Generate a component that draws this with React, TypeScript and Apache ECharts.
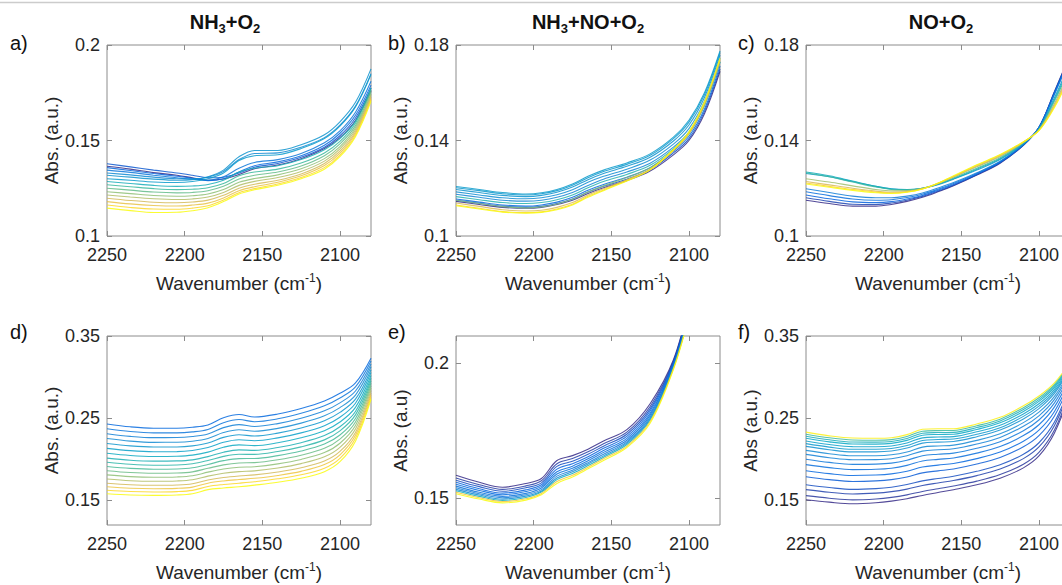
import React, { useEffect, useRef } from "react";
import * as echarts from "echarts";

// ---------------- DATA ----------------
const WN = [2250, 2235, 2220, 2205, 2195, 2185, 2175, 2165, 2155, 2140, 2125, 2110, 2100, 2090, 2080];
const WN_E = [2250, 2235, 2220, 2205, 2195, 2185, 2175, 2165, 2155, 2140, 2125, 2110, 2100];
const X_TICKS = [2250, 2200, 2150, 2100];

const A_YTICKS = [0.1, 0.15, 0.2];
const B_YTICKS = [0.1, 0.14, 0.18];
const C_YTICKS = [0.1, 0.14, 0.18];
const D_YTICKS = [0.15, 0.25, 0.35];
const E_YTICKS = [0.15, 0.2];
const F_YTICKS = [0.15, 0.25, 0.35];

const TITLES = ["NH{s|3}+O{s|2}", "NH{s|3}+NO+O{s|2}", "NO+O{s|2}"];
const PANEL_LABELS = ["a)", "b)", "c)", "d)", "e)", "f)"];
const Y_NAMES = ["Abs. (a.u.)", "Abs. (a.u.)", "Abs. (a.u.)", "Abs. (a.u.)", "Abs. (a.u)", "Abs (a.u.)"];
const X_NAME = "Wavenumber (cm{sup|-1})";

const A_LINES = [
  [0.1365, 0.1350, 0.1332, 0.1318, 0.1305, 0.1292, 0.1298, 0.1322, 0.1352, 0.1372, 0.1405, 0.1458, 0.1515, 0.1605, 0.1760],
  [0.1378, 0.1362, 0.1345, 0.1330, 0.1318, 0.1305, 0.1308, 0.1330, 0.1360, 0.1380, 0.1412, 0.1465, 0.1525, 0.1618, 0.1775],
  [0.1358, 0.1343, 0.1327, 0.1313, 0.1302, 0.1290, 0.1300, 0.1335, 0.1368, 0.1388, 0.1420, 0.1475, 0.1538, 0.1632, 0.1790],
  [0.1345, 0.1333, 0.1318, 0.1305, 0.1297, 0.1292, 0.1310, 0.1355, 0.1385, 0.1400, 0.1432, 0.1488, 0.1550, 0.1648, 0.1810],
  [0.1330, 0.1320, 0.1308, 0.1300, 0.1300, 0.1308, 0.1338, 0.1400, 0.1432, 0.1435, 0.1465, 0.1515, 0.1580, 0.1680, 0.1850],
  [0.1318, 0.1308, 0.1298, 0.1292, 0.1295, 0.1310, 0.1345, 0.1415, 0.1448, 0.1448, 0.1478, 0.1530, 0.1598, 0.1700, 0.1875],
  [0.1300, 0.1292, 0.1283, 0.1280, 0.1285, 0.1300, 0.1330, 0.1395, 0.1420, 0.1425, 0.1458, 0.1510, 0.1575, 0.1675, 0.1845],
  [0.1285, 0.1275, 0.1265, 0.1260, 0.1262, 0.1270, 0.1292, 0.1335, 0.1355, 0.1368, 0.1400, 0.1452, 0.1510, 0.1600, 0.1775],
  [0.1268, 0.1258, 0.1248, 0.1243, 0.1245, 0.1253, 0.1275, 0.1315, 0.1335, 0.1350, 0.1382, 0.1435, 0.1495, 0.1590, 0.1765],
  [0.1250, 0.1240, 0.1230, 0.1226, 0.1228, 0.1237, 0.1260, 0.1298, 0.1318, 0.1335, 0.1366, 0.1420, 0.1482, 0.1578, 0.1755],
  [0.1232, 0.1222, 0.1212, 0.1208, 0.1211, 0.1220, 0.1243, 0.1281, 0.1301, 0.1320, 0.1352, 0.1405, 0.1468, 0.1567, 0.1745],
  [0.1215, 0.1204, 0.1195, 0.1191, 0.1194, 0.1204, 0.1228, 0.1265, 0.1286, 0.1306, 0.1338, 0.1392, 0.1456, 0.1556, 0.1737],
  [0.1198, 0.1186, 0.1177, 0.1174, 0.1178, 0.1188, 0.1213, 0.1250, 0.1271, 0.1292, 0.1325, 0.1380, 0.1444, 0.1546, 0.1728],
  [0.1180, 0.1168, 0.1160, 0.1157, 0.1162, 0.1172, 0.1199, 0.1237, 0.1258, 0.1281, 0.1315, 0.1369, 0.1434, 0.1537, 0.1720],
  [0.1162, 0.1149, 0.1141, 0.1140, 0.1146, 0.1158, 0.1188, 0.1227, 0.1248, 0.1272, 0.1306, 0.1358, 0.1424, 0.1528, 0.1713],
  [0.1146, 0.1133, 0.1123, 0.1124, 0.1132, 0.1148, 0.1180, 0.1220, 0.1242, 0.1266, 0.1300, 0.1350, 0.1415, 0.1520, 0.1705],
];
const A_TONES = [0.0, 0.1, 0.15, 0.2, 0.27, 0.3, 0.33, 0.42, 0.5, 0.56, 0.62, 0.68, 0.74, 0.8, 0.9, 1.0];

const B_LINES = [
  [0.1145, 0.1132, 0.1120, 0.1116, 0.1120, 0.1132, 0.1150, 0.1178, 0.1202, 0.1232, 0.1272, 0.1340, 0.1400, 0.1512, 0.1690],
  [0.1150, 0.1137, 0.1125, 0.1120, 0.1124, 0.1136, 0.1155, 0.1184, 0.1208, 0.1238, 0.1278, 0.1348, 0.1408, 0.1522, 0.1700],
  [0.1155, 0.1142, 0.1130, 0.1125, 0.1130, 0.1142, 0.1162, 0.1192, 0.1216, 0.1246, 0.1286, 0.1356, 0.1418, 0.1532, 0.1712],
  [0.1175, 0.1162, 0.1150, 0.1146, 0.1150, 0.1162, 0.1182, 0.1212, 0.1238, 0.1268, 0.1305, 0.1372, 0.1435, 0.1550, 0.1730],
  [0.1185, 0.1172, 0.1160, 0.1156, 0.1160, 0.1173, 0.1194, 0.1225, 0.1250, 0.1280, 0.1318, 0.1385, 0.1450, 0.1565, 0.1745],
  [0.1195, 0.1182, 0.1170, 0.1165, 0.1170, 0.1183, 0.1205, 0.1236, 0.1262, 0.1292, 0.1330, 0.1398, 0.1465, 0.1580, 0.1758],
  [0.1202, 0.1190, 0.1177, 0.1172, 0.1177, 0.1190, 0.1213, 0.1244, 0.1270, 0.1300, 0.1338, 0.1408, 0.1477, 0.1592, 0.1768],
  [0.1207, 0.1195, 0.1182, 0.1176, 0.1181, 0.1195, 0.1218, 0.1250, 0.1276, 0.1306, 0.1344, 0.1414, 0.1485, 0.1600, 0.1775],
  [0.1165, 0.1152, 0.1140, 0.1136, 0.1140, 0.1152, 0.1172, 0.1202, 0.1228, 0.1258, 0.1296, 0.1365, 0.1430, 0.1548, 0.1728],
  [0.1150, 0.1136, 0.1123, 0.1118, 0.1122, 0.1134, 0.1154, 0.1184, 0.1210, 0.1245, 0.1286, 0.1360, 0.1428, 0.1548, 0.1730],
  [0.1138, 0.1124, 0.1110, 0.1105, 0.1108, 0.1120, 0.1140, 0.1172, 0.1198, 0.1236, 0.1280, 0.1358, 0.1428, 0.1552, 0.1735],
  [0.1130, 0.1116, 0.1102, 0.1098, 0.1101, 0.1113, 0.1133, 0.1166, 0.1193, 0.1232, 0.1278, 0.1360, 0.1432, 0.1558, 0.1740],
  [0.1127, 0.1113, 0.1100, 0.1096, 0.1099, 0.1110, 0.1130, 0.1162, 0.1190, 0.1230, 0.1277, 0.1362, 0.1436, 0.1562, 0.1745],
];
const B_TONES = [0.0, 0.08, 0.15, 0.25, 0.28, 0.3, 0.32, 0.33, 0.45, 0.6, 0.75, 0.9, 1.0];

const C_LINES = [
  [0.1150, 0.1136, 0.1125, 0.1125, 0.1132, 0.1145, 0.1162, 0.1185, 0.1210, 0.1255, 0.1305, 0.1380, 0.1455, 0.1605, 0.1760],
  [0.1160, 0.1145, 0.1133, 0.1132, 0.1138, 0.1150, 0.1166, 0.1188, 0.1213, 0.1257, 0.1307, 0.1381, 0.1455, 0.1603, 0.1757],
  [0.1172, 0.1156, 0.1143, 0.1140, 0.1144, 0.1155, 0.1170, 0.1192, 0.1216, 0.1259, 0.1309, 0.1382, 0.1455, 0.1600, 0.1753],
  [0.1185, 0.1169, 0.1155, 0.1150, 0.1152, 0.1161, 0.1175, 0.1196, 0.1220, 0.1262, 0.1311, 0.1383, 0.1454, 0.1597, 0.1748],
  [0.1198, 0.1182, 0.1167, 0.1160, 0.1160, 0.1167, 0.1180, 0.1201, 0.1224, 0.1265, 0.1313, 0.1384, 0.1453, 0.1593, 0.1742],
  [0.1262, 0.1248, 0.1228, 0.1208, 0.1198, 0.1195, 0.1200, 0.1215, 0.1238, 0.1276, 0.1320, 0.1386, 0.1450, 0.1580, 0.1725],
  [0.1268, 0.1252, 0.1230, 0.1208, 0.1197, 0.1194, 0.1200, 0.1217, 0.1240, 0.1280, 0.1324, 0.1388, 0.1448, 0.1572, 0.1715],
  [0.1265, 0.1248, 0.1226, 0.1205, 0.1195, 0.1193, 0.1200, 0.1218, 0.1243, 0.1284, 0.1328, 0.1390, 0.1447, 0.1565, 0.1705],
  [0.1240, 0.1226, 0.1210, 0.1195, 0.1189, 0.1190, 0.1200, 0.1220, 0.1247, 0.1290, 0.1333, 0.1392, 0.1445, 0.1555, 0.1695],
  [0.1228, 0.1214, 0.1200, 0.1188, 0.1183, 0.1186, 0.1198, 0.1220, 0.1248, 0.1293, 0.1336, 0.1393, 0.1443, 0.1548, 0.1685],
  [0.1222, 0.1208, 0.1195, 0.1184, 0.1180, 0.1184, 0.1197, 0.1221, 0.1250, 0.1296, 0.1339, 0.1394, 0.1442, 0.1542, 0.1678],
  [0.1218, 0.1204, 0.1191, 0.1181, 0.1178, 0.1183, 0.1197, 0.1222, 0.1252, 0.1298, 0.1341, 0.1395, 0.1441, 0.1538, 0.1672],
];
const C_TONES = [0.0, 0.06, 0.12, 0.17, 0.22, 0.32, 0.4, 0.5, 0.65, 0.75, 0.88, 1.0];

const D_LINES = [
  [0.2430, 0.2395, 0.2378, 0.2378, 0.2390, 0.2418, 0.2505, 0.2545, 0.2515, 0.2550, 0.2618, 0.2710, 0.2803, 0.2930, 0.3230],
  [0.2371, 0.2337, 0.2321, 0.2321, 0.2333, 0.2363, 0.2445, 0.2483, 0.2457, 0.2492, 0.2559, 0.2650, 0.2745, 0.2880, 0.3195],
  [0.2311, 0.2279, 0.2263, 0.2264, 0.2277, 0.2308, 0.2385, 0.2422, 0.2399, 0.2434, 0.2499, 0.2589, 0.2686, 0.2831, 0.3160],
  [0.2252, 0.2221, 0.2206, 0.2207, 0.2220, 0.2253, 0.2325, 0.2360, 0.2341, 0.2376, 0.2440, 0.2529, 0.2628, 0.2781, 0.3125],
  [0.2192, 0.2163, 0.2149, 0.2150, 0.2163, 0.2197, 0.2266, 0.2299, 0.2283, 0.2318, 0.2380, 0.2469, 0.2570, 0.2731, 0.3090],
  [0.2133, 0.2105, 0.2092, 0.2093, 0.2107, 0.2142, 0.2206, 0.2237, 0.2225, 0.2260, 0.2321, 0.2409, 0.2511, 0.2682, 0.3055],
  [0.2073, 0.2046, 0.2034, 0.2037, 0.2050, 0.2087, 0.2146, 0.2175, 0.2166, 0.2201, 0.2261, 0.2348, 0.2453, 0.2632, 0.3020],
  [0.2014, 0.1988, 0.1977, 0.1980, 0.1993, 0.2032, 0.2086, 0.2114, 0.2108, 0.2143, 0.2202, 0.2288, 0.2395, 0.2582, 0.2985],
  [0.1963, 0.1939, 0.1928, 0.1931, 0.1945, 0.1985, 0.2035, 0.2061, 0.2059, 0.2094, 0.2151, 0.2236, 0.2345, 0.2540, 0.2955],
  [0.1912, 0.1889, 0.1879, 0.1882, 0.1896, 0.1937, 0.1983, 0.2008, 0.2009, 0.2044, 0.2100, 0.2185, 0.2295, 0.2497, 0.2925],
  [0.1861, 0.1839, 0.1830, 0.1833, 0.1847, 0.1890, 0.1932, 0.1955, 0.1959, 0.1994, 0.2049, 0.2133, 0.2245, 0.2454, 0.2895],
  [0.1810, 0.1789, 0.1781, 0.1785, 0.1799, 0.1843, 0.1881, 0.1903, 0.1909, 0.1944, 0.1998, 0.2081, 0.2195, 0.2412, 0.2865],
  [0.1759, 0.1739, 0.1732, 0.1736, 0.1750, 0.1795, 0.1830, 0.1850, 0.1859, 0.1894, 0.1947, 0.2030, 0.2145, 0.2369, 0.2835],
  [0.1708, 0.1690, 0.1683, 0.1687, 0.1702, 0.1748, 0.1778, 0.1797, 0.1810, 0.1845, 0.1896, 0.1978, 0.2095, 0.2327, 0.2805],
  [0.1665, 0.1648, 0.1642, 0.1646, 0.1661, 0.1709, 0.1736, 0.1753, 0.1768, 0.1803, 0.1853, 0.1935, 0.2053, 0.2291, 0.2780],
  [0.1623, 0.1607, 0.1601, 0.1606, 0.1621, 0.1669, 0.1693, 0.1709, 0.1727, 0.1762, 0.1811, 0.1892, 0.2012, 0.2256, 0.2755],
  [0.1580, 0.1565, 0.1560, 0.1565, 0.1580, 0.1630, 0.1650, 0.1665, 0.1685, 0.1720, 0.1768, 0.1849, 0.1970, 0.2220, 0.2730],
];
const D_TONES = [0.15, 0.19, 0.23, 0.27, 0.31, 0.35, 0.39, 0.43, 0.47, 0.52, 0.57, 0.62, 0.68, 0.74, 0.82, 0.9, 1.0];

const E_LINES = [
  [0.1584, 0.1558, 0.1540, 0.1554, 0.1572, 0.1639, 0.1657, 0.1681, 0.1711, 0.1753, 0.1849, 0.2012, 0.2220],
  [0.1574, 0.1549, 0.1532, 0.1545, 0.1564, 0.1627, 0.1646, 0.1671, 0.1701, 0.1744, 0.1839, 0.2007, 0.2213],
  [0.1566, 0.1542, 0.1525, 0.1538, 0.1556, 0.1617, 0.1636, 0.1662, 0.1692, 0.1736, 0.1830, 0.2003, 0.2207],
  [0.1558, 0.1534, 0.1518, 0.1530, 0.1549, 0.1607, 0.1627, 0.1653, 0.1684, 0.1728, 0.1822, 0.1998, 0.2201],
  [0.1551, 0.1528, 0.1512, 0.1524, 0.1543, 0.1597, 0.1618, 0.1645, 0.1676, 0.1721, 0.1814, 0.1994, 0.2196],
  [0.1544, 0.1521, 0.1506, 0.1517, 0.1537, 0.1589, 0.1610, 0.1638, 0.1669, 0.1714, 0.1807, 0.1991, 0.2191],
  [0.1538, 0.1516, 0.1501, 0.1512, 0.1531, 0.1581, 0.1603, 0.1631, 0.1662, 0.1708, 0.1800, 0.1988, 0.2186],
  [0.1532, 0.1511, 0.1496, 0.1507, 0.1526, 0.1574, 0.1597, 0.1626, 0.1656, 0.1703, 0.1794, 0.1985, 0.2182],
  [0.1527, 0.1506, 0.1491, 0.1502, 0.1522, 0.1568, 0.1591, 0.1620, 0.1651, 0.1698, 0.1789, 0.1982, 0.2178],
  [0.1521, 0.1501, 0.1487, 0.1497, 0.1517, 0.1561, 0.1584, 0.1614, 0.1645, 0.1692, 0.1783, 0.1979, 0.2174],
  [0.1516, 0.1496, 0.1482, 0.1492, 0.1512, 0.1554, 0.1578, 0.1608, 0.1639, 0.1687, 0.1777, 0.1976, 0.2170],
];
const E_TONES = [0.0, 0.04, 0.08, 0.12, 0.15, 0.18, 0.22, 0.27, 0.4, 0.85, 1.0];

const F_LINES = [
  [0.2330, 0.2285, 0.2258, 0.2255, 0.2262, 0.2300, 0.2365, 0.2372, 0.2372, 0.2430, 0.2510, 0.2650, 0.2770, 0.2930, 0.3180],
  [0.2305, 0.2261, 0.2234, 0.2231, 0.2239, 0.2277, 0.2341, 0.2349, 0.2350, 0.2408, 0.2488, 0.2627, 0.2748, 0.2912, 0.3169],
  [0.2281, 0.2237, 0.2210, 0.2208, 0.2216, 0.2253, 0.2317, 0.2325, 0.2327, 0.2386, 0.2466, 0.2605, 0.2726, 0.2893, 0.3157],
  [0.2256, 0.2212, 0.2186, 0.2184, 0.2193, 0.2230, 0.2293, 0.2302, 0.2305, 0.2363, 0.2443, 0.2582, 0.2704, 0.2875, 0.3146],
  [0.2223, 0.2180, 0.2154, 0.2153, 0.2162, 0.2199, 0.2260, 0.2271, 0.2276, 0.2334, 0.2414, 0.2552, 0.2675, 0.2851, 0.3131],
  [0.2190, 0.2148, 0.2122, 0.2122, 0.2131, 0.2167, 0.2228, 0.2240, 0.2246, 0.2304, 0.2384, 0.2522, 0.2646, 0.2826, 0.3115],
  [0.2157, 0.2116, 0.2090, 0.2090, 0.2100, 0.2136, 0.2196, 0.2209, 0.2216, 0.2275, 0.2355, 0.2491, 0.2617, 0.2802, 0.3100],
  [0.2108, 0.2067, 0.2042, 0.2043, 0.2054, 0.2089, 0.2148, 0.2162, 0.2172, 0.2230, 0.2310, 0.2446, 0.2573, 0.2765, 0.3077],
  [0.2059, 0.2019, 0.1994, 0.1996, 0.2007, 0.2043, 0.2099, 0.2116, 0.2127, 0.2186, 0.2266, 0.2401, 0.2529, 0.2729, 0.3055],
  [0.2001, 0.1962, 0.1938, 0.1941, 0.1953, 0.1988, 0.2043, 0.2061, 0.2075, 0.2134, 0.2214, 0.2348, 0.2478, 0.2686, 0.3028],
  [0.1935, 0.1898, 0.1874, 0.1878, 0.1891, 0.1926, 0.1979, 0.1999, 0.2016, 0.2075, 0.2155, 0.2288, 0.2420, 0.2637, 0.2998],
  [0.1861, 0.1825, 0.1802, 0.1808, 0.1822, 0.1855, 0.1906, 0.1929, 0.1949, 0.2008, 0.2088, 0.2220, 0.2354, 0.2582, 0.2963],
  [0.1787, 0.1752, 0.1730, 0.1737, 0.1752, 0.1785, 0.1834, 0.1859, 0.1882, 0.1942, 0.2022, 0.2152, 0.2288, 0.2527, 0.2929],
  [0.1689, 0.1656, 0.1634, 0.1643, 0.1660, 0.1692, 0.1737, 0.1766, 0.1793, 0.1853, 0.1933, 0.2061, 0.2201, 0.2454, 0.2884],
  [0.1631, 0.1599, 0.1578, 0.1588, 0.1606, 0.1637, 0.1681, 0.1712, 0.1741, 0.1801, 0.1881, 0.2008, 0.2150, 0.2412, 0.2857],
  [0.1557, 0.1526, 0.1506, 0.1517, 0.1536, 0.1567, 0.1608, 0.1642, 0.1675, 0.1734, 0.1814, 0.1940, 0.2084, 0.2357, 0.2823],
  [0.1508, 0.1478, 0.1458, 0.1470, 0.1490, 0.1520, 0.1560, 0.1595, 0.1630, 0.1690, 0.1770, 0.1895, 0.2040, 0.2320, 0.2800],
];
const F_TONES = [0.97, 0.5, 0.42, 0.38, 0.35, 0.32, 0.29, 0.26, 0.23, 0.2, 0.17, 0.14, 0.11, 0.08, 0.05, 0.03, 0.0];

// ---------------- STYLE / LAYOUT ----------------
const FONT = '"Liberation Sans", Arial, Helvetica, sans-serif';
const TXT = "#262626";
const BOX = "#8c8c8c";
const PARULA = ["#352a87", "#0363e1", "#1485d4", "#06a7c6", "#38b99e", "#92bf73", "#d9ba56", "#fcce2e", "#f9fb0e"];

function parula(t: number): string {
  const n = PARULA.length - 1;
  const p = Math.max(0, Math.min(1, t)) * n;
  const i = Math.min(n - 1, Math.floor(p));
  const f = p - i;
  const a = PARULA[i], b = PARULA[i + 1];
  const ch = (h: string, k: number) => parseInt(h.slice(1 + 2 * k, 3 + 2 * k), 16);
  const c = [0, 1, 2].map((k) => Math.round(ch(a, k) + (ch(b, k) - ch(a, k)) * f));
  return `rgb(${c[0]},${c[1]},${c[2]})`;
}

const PANELS = [
  { x: WN, lines: A_LINES, tones: A_TONES, ymin: 0.1, ymax: 0.2, yticks: A_YTICKS },
  { x: WN, lines: B_LINES, tones: B_TONES, ymin: 0.1, ymax: 0.18, yticks: B_YTICKS },
  { x: WN, lines: C_LINES, tones: C_TONES, ymin: 0.1, ymax: 0.18, yticks: C_YTICKS },
  { x: WN, lines: D_LINES, tones: D_TONES, ymin: 0.12, ymax: 0.35, yticks: D_YTICKS },
  { x: WN_E, lines: E_LINES, tones: E_TONES, ymin: 0.14, ymax: 0.21, yticks: E_YTICKS },
  { x: WN, lines: F_LINES, tones: F_TONES, ymin: 0.12, ymax: 0.35, yticks: F_YTICKS },
];

const LAYOUT = [
  { left: 107, top: 45, height: 191 },
  { left: 456, top: 45, height: 191 },
  { left: 806, top: 45, height: 191 },
  { left: 107, top: 336, height: 192 },
  { left: 456, top: 336, height: 192 },
  { left: 806, top: 336, height: 192 },
];
const GRID_W = 264;
const TITLE_POS = [{ x: 225, y: 22 }, { x: 588, y: 22 }, { x: 941, y: 22 }];
const LABEL_POS = [{ x: 10, y: 43 }, { x: 388, y: 43 }, { x: 738, y: 43 }, { x: 10, y: 332 }, { x: 388, y: 332 }, { x: 738, y: 332 }];

function buildOption() {
  const grid: any[] = [];
  const xAxis: any[] = [];
  const yAxis: any[] = [];
  const series: any[] = [];
  const graphic: any[] = [];

  PANELS.forEach((P, i) => {
    const L = LAYOUT[i];
    grid.push({ left: L.left, top: L.top, width: GRID_W, height: L.height, show: true, borderColor: BOX, borderWidth: 1, backgroundColor: "transparent" });
    const tickStyle = { color: BOX, width: 1 };
    xAxis.push({
      gridIndex: i, type: "value", min: 2080, max: 2250, inverse: true, position: "bottom",
      axisLine: { show: false }, splitLine: { show: false },
      axisTick: { show: true, inside: true, length: 5, lineStyle: tickStyle, customValues: X_TICKS },
      axisLabel: {
        show: true, customValues: X_TICKS, margin: 10, fontSize: 18, color: TXT, fontFamily: FONT,
        formatter: (v: number) => String(Math.round(v)),
      },
      name: X_NAME, nameLocation: "middle", nameGap: 36,
      nameTextStyle: {
        fontSize: 19, color: TXT, fontFamily: FONT, lineHeight: 23,
        rich: { sup: { fontSize: 12, lineHeight: 12, verticalAlign: "top", color: TXT, fontFamily: FONT } },
      },
    });
    xAxis.push({
      gridIndex: i, type: "value", min: 2080, max: 2250, inverse: true, position: "top",
      axisLine: { show: false }, splitLine: { show: false },
      axisTick: { show: true, inside: true, length: 5, lineStyle: tickStyle, customValues: X_TICKS },
      axisLabel: { show: false },
    });
    yAxis.push({
      gridIndex: i, type: "value", min: P.ymin, max: P.ymax, position: "left",
      axisLine: { show: false }, splitLine: { show: false },
      axisTick: { show: true, inside: true, length: 5, lineStyle: tickStyle, customValues: P.yticks },
      axisLabel: { show: true, customValues: P.yticks, margin: 7, fontSize: 18, color: TXT, fontFamily: FONT },
      name: Y_NAMES[i], nameLocation: "middle", nameGap: 44,
      nameTextStyle: { fontSize: 19, color: TXT, fontFamily: FONT },
    });
    yAxis.push({
      gridIndex: i, type: "value", min: P.ymin, max: P.ymax, position: "right",
      axisLine: { show: false }, splitLine: { show: false },
      axisTick: { show: true, inside: true, length: 5, lineStyle: tickStyle, customValues: P.yticks },
      axisLabel: { show: false },
    });

    const order = P.lines.map((_, k) => k).sort((p, q) => P.tones[p] - P.tones[q]);
    order.forEach((k) => {
      const row = P.lines[k];
      series.push({
        type: "line", xAxisIndex: 2 * i, yAxisIndex: 2 * i, silent: true,
        showSymbol: false, symbol: "none", smooth: 0.35, clip: true,
        lineStyle: { width: 1.1, color: parula(P.tones[k]), opacity: 0.85 },
        data: P.x.map((w, j) => [w, row[j]]),
      });
    });

    graphic.push({
      type: "text", x: LABEL_POS[i].x, y: LABEL_POS[i].y,
      style: { text: PANEL_LABELS[i], fontSize: 20, fontFamily: FONT, fill: "#111", verticalAlign: "middle", align: "left" },
    });
  });

  TITLES.forEach((t, i) => {
    graphic.push({
      type: "text", x: TITLE_POS[i].x, y: TITLE_POS[i].y,
      style: {
        text: t, align: "center", verticalAlign: "middle", fill: "#111",
        fontSize: 20, fontWeight: "bold", fontFamily: FONT, lineHeight: 25,
        rich: { s: { fill: "#111", fontSize: 13, fontWeight: "bold", fontFamily: FONT, lineHeight: 13, verticalAlign: "bottom" } },
      },
    });
  });

  graphic.push({ type: "line", shape: { x1: 0, y1: 2.5, x2: 1062, y2: 2.5 }, style: { stroke: "#cccccc", lineWidth: 1.5 } });

  return { animation: false, backgroundColor: "#ffffff", grid, xAxis, yAxis, series, graphic };
}

export default function App() {
  const ref = useRef<HTMLDivElement>(null);
  useEffect(() => {
    if (!ref.current) return;
    const chart = echarts.init(ref.current, undefined, { renderer: "svg" });
    chart.setOption(buildOption() as any);
    return () => chart.dispose();
  }, []);
  return (
    <div style={{ position: "fixed", left: 0, top: 0, width: 1062, height: 585, overflow: "hidden", background: "#fff" }}>
      <div ref={ref} style={{ width: 1085, height: 585 }} />
    </div>
  );
}
